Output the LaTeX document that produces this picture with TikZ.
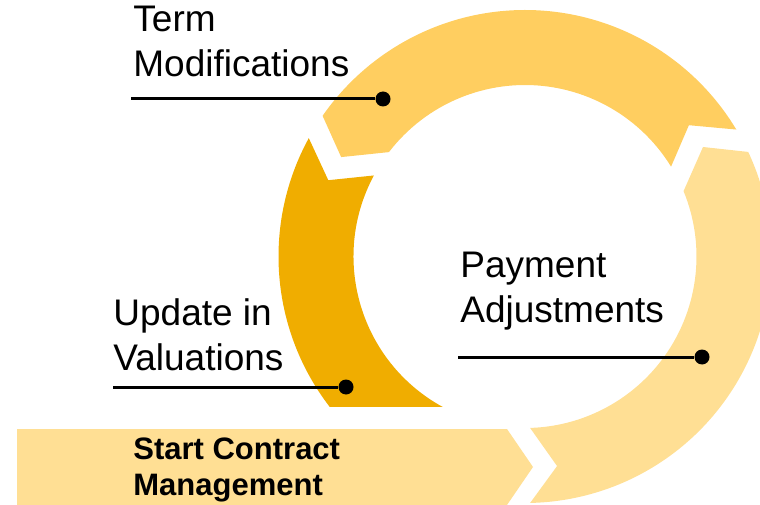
\documentclass[tikz,border=0pt]{standalone}
\usepackage{fontspec}
\setmainfont{Liberation Sans}
\begin{document}
\begin{tikzpicture}[x=0.5pt,y=0.5pt,
        caption/.style={anchor=base west,inner sep=0pt,align=left,font=\fontsize{18.5}{22.5}\selectfont},
        dot/.style={circle,fill=black,inner sep=0pt,minimum size=7.5pt},
        leader/.style={line width=1.5pt}]
        \colorlet{gold}{rgb,255:red,255;green,206;blue,96}
        \colorlet{amber}{rgb,255:red,240;green,173;blue,0}
        \colorlet{pale}{rgb,255:red,255;green,223;blue,148}
        \useasboundingbox (0,0) rectangle (760,504);
        \clip (0,0) rectangle (760,504);
        \begin{scope}[shift={(525,247.5)}]
            \fill[gold] (31:246.5) arc[start angle=31,end angle=145.2,radius=246.5] -- (151.6:209)
                -- (142.5:171.5) arc[start angle=142.5,end angle=31.6,radius=171.5] -- (38.7:210) -- cycle;
            \fill[pale] (-88.8:246.5) arc[start angle=-88.8,end angle=25.1,radius=246.5] -- (31.6:209)
                -- (22.4:171.5) arc[start angle=22.4,end angle=-88.3,radius=171.5] -- (-81.3:212) -- cycle;
            \fill[amber] (151.3:246.5) arc[start angle=151.3,end angle=217.6,radius=246.5]
                -- (241.35:171.5) arc[start angle=241.35,end angle=151.8,radius=171.5] -- (158.8:211) -- cycle;
        \end{scope}
        \fill[pale] (17,75) -- (507,75) -- (533,37) -- (507,-1) -- (17,-1) -- cycle;
        % base anchor sits on the last line
        \node[caption] (term) at (133,427) {Term\\Modifications};
        \node[caption] (payment) at (460,182) {Payment\\Adjustments};
        \node[caption] (update) at (113,134) {Update in\\Valuations};
        \node[caption,font=\bfseries\fontsize{15.5}{18}\selectfont] (start) at (133,9) {Start Contract\\Management};
        \foreach \n/\a/\b/\y in {term/131/383/405, payment/458/702/147, update/113/346/117}
        {
            \node[dot] (\n dot) at (\b,\y) {};
            \draw[leader] (\a,\y) coordinate (\n end) -- (\n dot);
        }
    \end{tikzpicture}
\end{document}
